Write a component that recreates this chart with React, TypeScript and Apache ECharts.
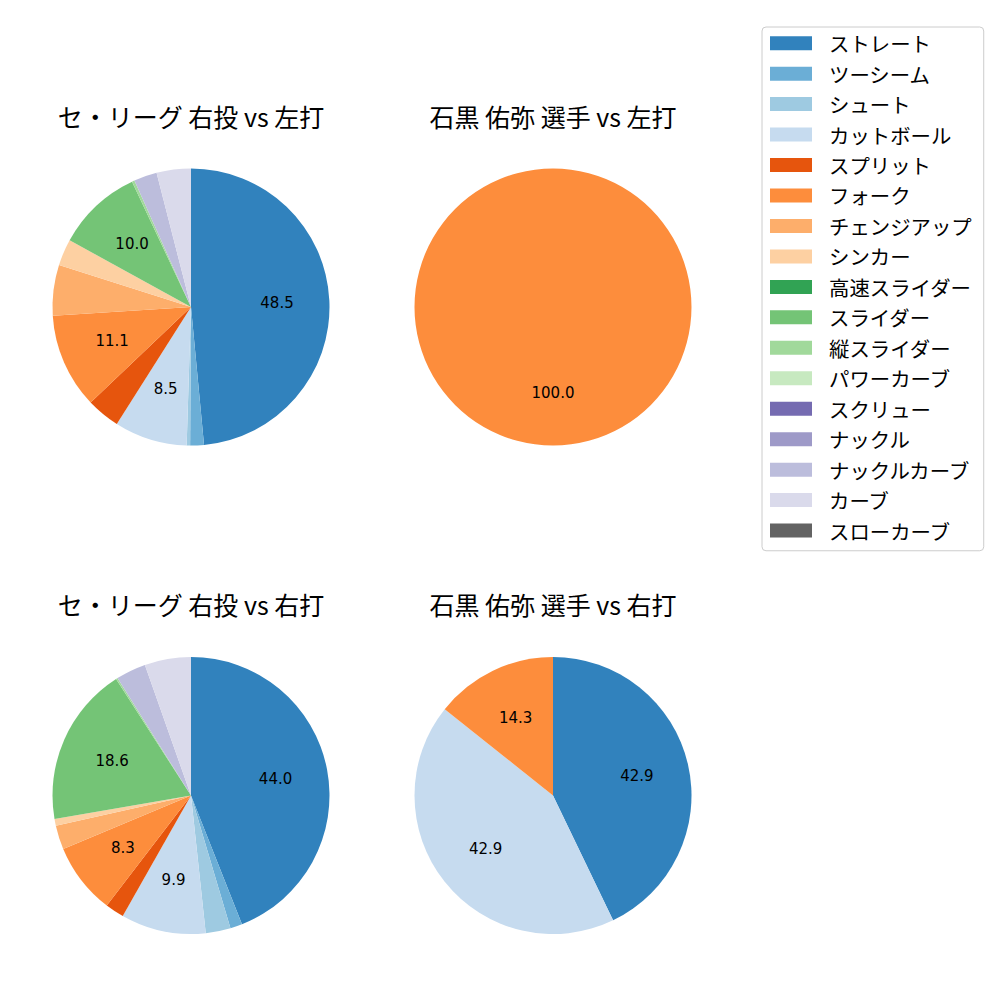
import React, { useEffect, useRef } from "react";
import * as echarts from "echarts";

const categories = [
  "ストレート", "ツーシーム", "シュート", "カットボール", "スプリット", "フォーク",
  "チェンジアップ", "シンカー", "高速スライダー", "スライダー", "縦スライダー",
  "パワーカーブ", "スクリュー", "ナックル", "ナックルカーブ", "カーブ", "スローカーブ",
];
const colors = [
  "#3182bd", "#6baed6", "#9ecae1", "#c6dbef", "#e6550d", "#fd8d3c",
  "#fdae6b", "#fdd0a2", "#31a354", "#74c476", "#a1d99b", "#c7e9c0",
  "#756bb1", "#9e9ac8", "#bcbddc", "#dadaeb", "#636363",
];

const leagueVsLeft = [48.5, 1.6, 0.4, 8.5, 3.9, 11.1, 5.9, 3.1, 0, 10.0, 0.3, 0, 0, 0, 2.7, 4.0, 0];
const playerVsLeft = [0, 0, 0, 0, 0, 1, 0, 0, 0, 0, 0, 0, 0, 0, 0, 0, 0];
const leagueVsRight = [44.0, 1.4, 2.9, 9.9, 2.2, 8.3, 2.8, 0.8, 0, 18.6, 0.2, 0, 0, 0, 3.5, 5.4, 0];
const playerVsRight = [3, 0, 0, 3, 0, 1, 0, 0, 0, 0, 0, 0, 0, 0, 0, 0, 0];

const titles = [
  "セ・リーグ 右投 vs 左打",
  "石黒 佑弥 選手 vs 左打",
  "セ・リーグ 右投 vs 右打",
  "石黒 佑弥 選手 vs 右打",
];

const CJK = '"Noto Sans CJK JP", "Noto Sans", sans-serif';

export default function App() {
  const ref = useRef<HTMLDivElement>(null);
  useEffect(() => {
    if (!ref.current) return;
    const chart = echarts.init(ref.current, undefined, { renderer: "svg" });
    const R = 138.5;
    const panels = [
      { values: leagueVsLeft, cx: 191, cy: 307, ty: 116 },
      { values: playerVsLeft, cx: 553, cy: 307, ty: 116 },
      { values: leagueVsRight, cx: 191, cy: 795.5, ty: 604 },
      { values: playerVsRight, cx: 553, cy: 795.5, ty: 604 },
    ];
    const mkData = (vals: number[], transparent: boolean) =>
      vals.map((v, i) => ({
        name: categories[i],
        value: v,
        itemStyle: { color: transparent ? "rgba(0,0,0,0)" : colors[i], borderWidth: 0 },
      }));
    const visible = panels.map((p) => ({
      type: "pie",
      center: [p.cx, p.cy],
      radius: [0, R],
      startAngle: 90,
      clockwise: true,
      avoidLabelOverlap: false,
      label: { show: false },
      labelLine: { show: false },
      emphasis: { disabled: true },
      data: mkData(p.values, false),
    }));
    const labels = panels.map((p) => ({
      type: "pie",
      center: [p.cx, p.cy],
      radius: [0, R * 1.2],
      startAngle: 90,
      clockwise: true,
      silent: true,
      avoidLabelOverlap: false,
      z: 5,
      legendHoverLink: false,
      label: {
        show: true,
        position: "inner",
        color: "#000",
        fontFamily: '"DejaVu Sans", sans-serif',
        fontSize: 15,
        formatter: (prm: any) => (prm.percent >= 7 ? Number(prm.percent).toFixed(1) : ""),
      },
      labelLine: { show: false },
      emphasis: { disabled: true },
      data: mkData(p.values, true),
    }));
    chart.setOption({
      animation: false,
      backgroundColor: "#fff",
      legend: {
        data: categories,
        orient: "vertical",
        left: 762,
        top: 27,
        padding: [6, 12, 10, 8],
        itemWidth: 42,
        itemHeight: 14,
        itemGap: 10.07,
        icon: "rect",
        borderColor: "#cccccc",
        borderWidth: 1,
        borderRadius: 4,
        selectedMode: false,
        textStyle: {
          fontFamily: CJK,
          fontSize: 20.4,
          lineHeight: 20,
          color: "#000",
          padding: [0, 0, 0, 12],
        },
      },
      graphic: panels.map((p, i) => ({
        type: "text",
        x: p.cx,
        y: p.ty,
        style: {
          text: titles[i],
          fill: "#000",
          fontFamily: CJK,
          fontSize: 25,
          textAlign: "center",
          textVerticalAlign: "middle",
        },
      })),
      series: [...visible, ...labels],
    });
    return () => chart.dispose();
  }, []);
  return (
    <div
      ref={ref}
      style={{ position: "absolute", left: 0, top: 0, width: 1000, height: 1000 }}
    />
  );
}
